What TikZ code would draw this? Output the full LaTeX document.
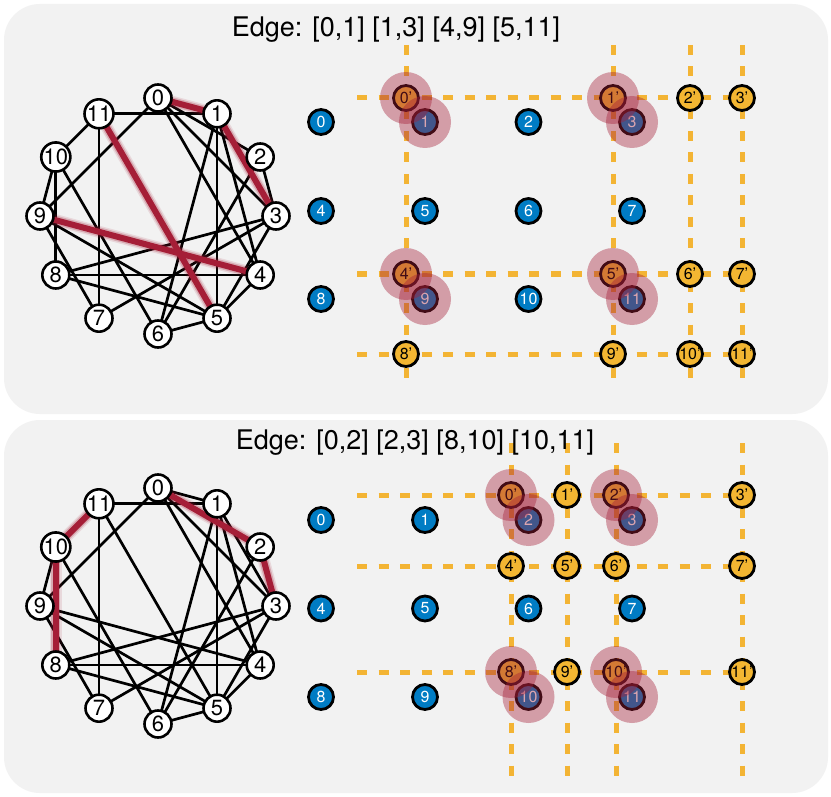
\documentclass[tikz,border=0pt]{standalone}
\usepackage{fontspec}
\setmainfont{TeX Gyre Heros}
\usetikzlibrary{calc}
\pgfdeclarelayer{back}
\pgfdeclarelayer{edges}
\pgfdeclarelayer{front}
\pgfsetlayers{back,edges,main,front}
\definecolor{panel}{RGB}{242,242,242}
\definecolor{dashy}{RGB}{243,180,52}
\definecolor{ynode}{RGB}{243,182,50}
\definecolor{bnode}{RGB}{0,124,196}
\definecolor{hlred}{RGB}{165,30,55}
\tikzset{
  gnode/.style={circle, draw=black, fill=white, line width=2.6pt, minimum size=27pt, inner sep=0pt, font=\fontsize{22}{22}\selectfont},
  gedge/.style={line width=2.7pt, black},
  hledge/.style={line width=6pt, hlred},
  hlglowa/.style={line width=12pt, hlred, opacity=0.12},
  hlglowb/.style={line width=9pt, hlred, opacity=0.25},
  bnd/.style={circle, draw=black, fill=bnode, line width=2.8pt, minimum size=25pt, inner sep=0pt, text=white, font=\fontsize{16}{16}\selectfont},
  ynd/.style={circle, draw=black, fill=ynode, line width=2.8pt, minimum size=25pt, inner sep=0pt, text=black, font=\fontsize{16}{16}\selectfont},
  gridline/.style={dashy, line width=5pt, dash pattern=on 10pt off 11.5pt},
  halo/.style={circle, fill=hlred, fill opacity=0.4, minimum size=52pt, inner sep=0pt},
  titletext/.style={font=\fontsize{27}{27}\selectfont},
  panelbox/.style={fill=panel, rounded corners=36pt}
}
\def\edgelist{0/1,0/2,0/3,0/4,0/9,1/3,1/4,1/5,1/6,1/11,2/3,2/6,3/5,3/7,3/8,4/5,4/8,4/9,5/6,5/8,5/9,5/11,6/10,7/9,7/11,8/10,9/10,10/11}
\newcommand{\mygraph}[3]{%
  \foreach \i in {0,...,11}
    \node[gnode] (#1\i) at ({158+118*cos(90-30*\i)},{#2-118*sin(90-30*\i)}) {\i};
  \begin{pgfonlayer}{edges}
    \foreach \a/\b in \edgelist \draw[gedge] (#1\a.center) -- (#1\b.center);
    \foreach \a/\b in {#3} {
      \draw[hlglowa] (#1\a.center) -- (#1\b.center);
      \draw[hlglowb] (#1\a.center) -- (#1\b.center);
      \draw[hledge] (#1\a.center) -- (#1\b.center);
    }
  \end{pgfonlayer}
}
\begin{document}
\begin{tikzpicture}[x=1pt,y=-1pt]
\useasboundingbox (0,0) rectangle (831,797);
\begin{pgfonlayer}{back}
  \fill[white] (0,0) rectangle (831,797);
  \fill[panelbox] (4,4) rectangle (828,414);
  \fill[panelbox] (4,420) rectangle (828,793);
\end{pgfonlayer}

% ---------- titles ----------
\node[titletext] (title1) at (396,30) {Edge: [0,1] [1,3] [4,9] [5,11]};
\node[titletext] (title2) at (415,443) {Edge: [0,2] [2,3] [8,10] [10,11]};

% ---------- graphs ----------
\mygraph{ga}{216}{0/1,1/3,4/9,5/11}
\mygraph{gb}{606}{0/2,2/3,8/10,10/11}

% ---------- grid lines ----------
\begin{pgfonlayer}{edges}
  \foreach \y [count=\k] in {98,274,354} {
    \coordinate (tl\k) at (357,\y); \coordinate (tr\k) at (762,\y);
    \draw[gridline] (tl\k) -- (tr\k);
  }
  \foreach \x [count=\k] in {406,613,690,742} {
    \coordinate (tt\k) at (\x,45); \coordinate (tb\k) at (\x,386);
    \draw[gridline] (tt\k) -- (tb\k);
  }
  \foreach \y [count=\k] in {495,566,672} {
    \coordinate (bl\k) at (357,\y); \coordinate (br\k) at (762,\y);
    \draw[gridline] (bl\k) -- (br\k);
  }
  \foreach \x [count=\k] in {511,567,616,742} {
    \coordinate (bt\k) at (\x,443); \coordinate (bb\k) at (\x,783);
    \draw[gridline] (bt\k) -- (bb\k);
  }
\end{pgfonlayer}

% top blue nodes
\foreach \y [count=\r from 0] in {122,211,299} {
  \foreach \x [count=\c from 0] in {321,425,528.5,632} {
    \pgfmathtruncatemacro\n{4*\r+\c}
    \node[bnd] (ta\n) at (\x,\y) {\n};
  }
}
% top prime nodes
\foreach \y [count=\r from 0] in {98,274,354} {
  \foreach \x [count=\c from 0] in {406,613,690,742} {
    \pgfmathtruncatemacro\n{4*\r+\c}
    \node[ynd] (tp\n) at (\x,\y) {\n'};
  }
}
% bottom blue nodes
\foreach \y [count=\r from 0] in {520,608.5,697} {
  \foreach \x [count=\c from 0] in {321,425,528.5,632} {
    \pgfmathtruncatemacro\n{4*\r+\c}
    \node[bnd] (ba\n) at (\x,\y) {\n};
  }
}
% bottom prime nodes
\foreach \y [count=\r from 0] in {495,566,672} {
  \foreach \x [count=\c from 0] in {511,567,616,742} {
    \pgfmathtruncatemacro\n{4*\r+\c}
    \node[ynd] (bp\n) at (\x,\y) {\n'};
  }
}

% halos
\begin{pgfonlayer}{front}
  \foreach \p/\q [count=\k] in {0/1,1/3,4/9,5/11} {
    \node[halo] (thp\k) at (tp\p.center) {};
    \node[halo] (thq\k) at (ta\q.center) {};
  }
  \foreach \p/\q [count=\k] in {0/2,2/3,8/10,10/11} {
    \node[halo] (bhp\k) at (bp\p.center) {};
    \node[halo] (bhq\k) at (ba\q.center) {};
  }
\end{pgfonlayer}
\end{tikzpicture}
\end{document}
